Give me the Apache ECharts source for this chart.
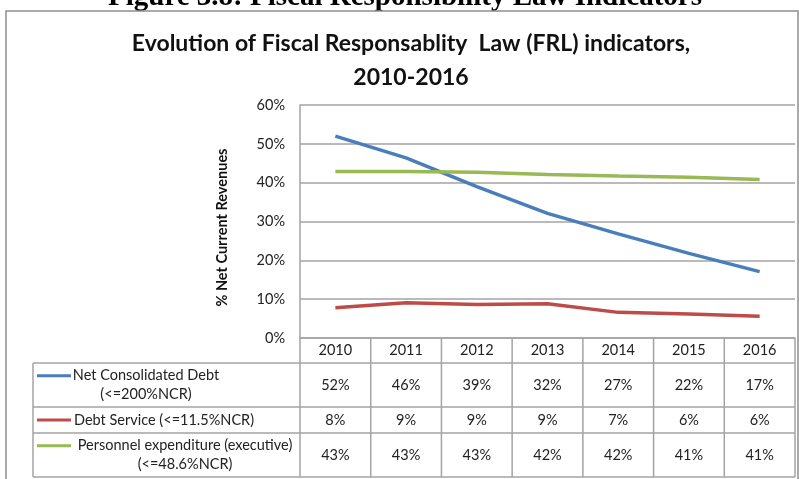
<!DOCTYPE html>
<html>
<head>
<meta charset="utf-8">
<script src="https://cdn.jsdelivr.net/npm/echarts@6/dist/echarts.min.js"></script>
<style>
  html, body { margin: 0; padding: 0; background: #fff; }
  #chart { width: 799px; height: 479px; }
</style>
</head>
<body>
<div id="chart"></div>
<script>
// FRL indicators as a share of net current revenues (%)
const years = ['2010', '2011', '2012', '2013', '2014', '2015', '2016'];
const netConsolidatedDebt = [52.0, 46.4, 39.0, 32.1, 26.8, 21.8, 17.1];
const debtService = [7.8, 9.1, 8.6, 8.8, 6.6, 6.2, 5.6];
const personnelExpenditure = [42.9, 42.9, 42.7, 42.1, 41.7, 41.4, 40.8];
const yTicks = [0, 10, 20, 30, 40, 50, 60];

const seriesNames = [
  ['Net Consolidated Debt', '(<=200%NCR)'],
  ['Debt Service (<=11.5%NCR)'],
  ['Personnel expenditure (executive)', '(<=48.6%NCR)']
];
const seriesValues = [netConsolidatedDebt, debtService, personnelExpenditure];
const seriesColors = ['#4a7ebb', '#be4b48', '#98b954'];

// layout
const FONT = 'Lato, "Open Sans", sans-serif';
const FS = 14.5;
const GRID_LEFT = 300, GRID_RIGHT = 795, GRID_TOP = 105, GRID_BOTTOM = 338;
const TABLE_LEFT = 33;
const ROW_LINES = [363, 407, 433, 477];          // horizontal rules under header and each row
const LABEL_CENTERS = [146, 164, 185];           // centre of each row's legend text
const LEGEND_KEY = [37, 71];
const LINE_GRAY = '#a3a3a3';

const chart = echarts.init(document.getElementById('chart'), null, { renderer: 'canvas' });

const rowCenter = i => (ROW_LINES[i] + ROW_LINES[i + 1]) / 2;

// one extra category axis per table row; its labels are the rounded series values
const tableAxes = seriesValues.map((vals, i) => ({
  type: 'category',
  gridIndex: 0,
  position: 'bottom',
  data: years,
  offset: rowCenter(i) - GRID_BOTTOM,
  axisLine: { show: false, onZero: false },
  axisTick: { show: false },
  splitLine: { show: false },
  axisLabel: {
    show: true,
    interval: 0,
    margin: 0,
    verticalAlign: 'middle',
    fontFamily: FONT,
    fontSize: FS,
    color: '#222',
    formatter: (v, idx) => Math.round(vals[idx]) + '%'
  }
}));

// table rules and legend keys
const graphics = [];
const bandW = (GRID_RIGHT - GRID_LEFT) / years.length;
const line = (x1, y1, x2, y2, color, w) => ({
  type: 'line', z: 5, silent: true,
  shape: { x1, y1, x2, y2 },
  style: { stroke: color || LINE_GRAY, lineWidth: w || 1.5 }
});

// figure heading above the frame (its lower part is hidden behind the frame)
graphics.push({
  type: 'text', z: 0, silent: true,
  x: 405, y: -2.5,
  style: {
    text: 'Figure 3.8: Fiscal Responsibility Law Indicators',
    fill: '#000', font: 'bold 29px "Liberation Serif", "DejaVu Serif", serif',
    textAlign: 'center', textVerticalAlign: 'middle'
  }
});
graphics.push({
  type: 'rect', z: 1, silent: true,
  shape: { x: 6, y: 11, width: 792, height: 14 },
  style: { fill: '#fff' }
});
// outer chart frame
graphics.push({
  type: 'rect', z: 2, silent: true,
  shape: { x: 6, y: 11, width: 792, height: 480 },
  style: { fill: null, stroke: '#8f8f8f', lineWidth: 1.5 }
});
// table vertical rules
for (let i = 0; i <= years.length; i++) {
  const x = GRID_LEFT + i * bandW;
  graphics.push(line(x, GRID_BOTTOM, x, ROW_LINES[3]));
}
graphics.push(line(TABLE_LEFT, ROW_LINES[0], TABLE_LEFT, ROW_LINES[3]));
// table horizontal rules
ROW_LINES.forEach(y => graphics.push(line(TABLE_LEFT, y, GRID_RIGHT, y)));

// row labels with legend keys
seriesNames.forEach((lines, i) => {
  const n = lines.length;
  const lh = 18.5;
  const firstY = rowCenter(i) - (n - 1) * lh / 2;
  graphics.push({
    type: 'line', z: 6, silent: true,
    shape: { x1: LEGEND_KEY[0], y1: firstY, x2: LEGEND_KEY[1], y2: firstY },
    style: { stroke: seriesColors[i], lineWidth: 3 }
  });
  lines.forEach((t, k) => {
    graphics.push({
      type: 'text', z: 6, silent: true,
      x: LABEL_CENTERS[i], y: firstY + k * lh,
      style: {
        text: t, fill: '#222', font: FS + 'px ' + FONT,
        textAlign: 'center', textVerticalAlign: 'middle'
      }
    });
  });
});

const option = {
  backgroundColor: '#fff',
  animation: false,
  title: {
    text: 'Evolution of Fiscal Responsablity  Law (FRL) indicators,\n2010-2016',
    left: 406,
    top: 22,
    textAlign: 'center',
    textStyle: {
      fontFamily: FONT,
      fontWeight: 'bold',
      fontSize: 23,
      lineHeight: 33.5,
      color: '#111'
    }
  },
  grid: {
    left: GRID_LEFT,
    top: GRID_TOP,
    width: GRID_RIGHT - GRID_LEFT,
    height: GRID_BOTTOM - GRID_TOP,
    containLabel: false
  },
  xAxis: [
    {
      type: 'category',
      position: 'bottom',
      data: years,
      boundaryGap: true,
      axisLine: { show: true, lineStyle: { color: LINE_GRAY, width: 1.5 } },
      axisTick: { show: false },
      axisLabel: {
        interval: 0,
        margin: (ROW_LINES[0] - GRID_BOTTOM) / 2,
        verticalAlign: 'middle',
        fontFamily: FONT,
        fontSize: FS,
        color: '#222'
      }
    },
    ...tableAxes
  ],
  yAxis: {
    type: 'value',
    min: yTicks[0],
    max: yTicks[yTicks.length - 1],
    interval: 10,
    name: '% Net Current Revenues',
    nameLocation: 'middle',
    nameGap: 70,
    nameTextStyle: {
      fontFamily: FONT, fontWeight: 'bold', fontSize: 14.5, color: '#111',
      padding: [0, 12, 0, 0]
    },
    axisLine: { show: true, lineStyle: { color: LINE_GRAY, width: 1.5 } },
    axisTick: { show: false },
    splitLine: { show: true, lineStyle: { color: LINE_GRAY, width: 1.5 } },
    axisLabel: {
      margin: 15,
      fontFamily: FONT,
      fontSize: FS,
      color: '#222',
      formatter: '{value}%'
    }
  },
  series: seriesValues.map((vals, i) => ({
    type: 'line',
    name: seriesNames[i].join(' '),
    xAxisIndex: 0,
    data: vals,
    showSymbol: false,
    symbol: 'none',
    lineStyle: { color: seriesColors[i], width: 3.5 },
    itemStyle: { color: seriesColors[i] },
    z: 3
  })),
  graphic: graphics
};

chart.setOption(option);
</script>
</body>
</html>
